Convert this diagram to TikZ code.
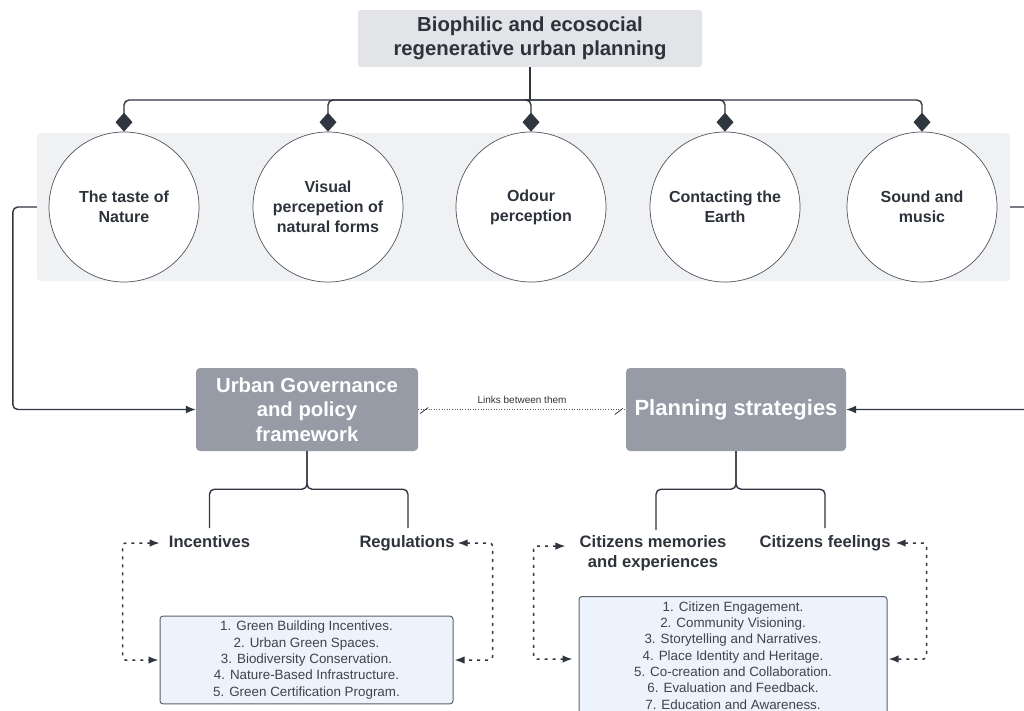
\documentclass[tikz,border=0pt]{standalone}
\usepackage{fontspec}
\setmainfont{Liberation Sans}
\usetikzlibrary{arrows.meta,calc}
\definecolor{ink}{HTML}{30363F}
\definecolor{txt}{HTML}{2E333B}
\definecolor{listtxt}{HTML}{3E444E}
\definecolor{titlefill}{HTML}{E2E4E8}
\definecolor{bandfill}{HTML}{F0F1F3}
\definecolor{boxgray}{HTML}{969BA5}
\definecolor{bluefill}{HTML}{EDF3FC}
\definecolor{blueline}{HTML}{5C626B}
\tikzset{
  titlebox/.style={fill=titlefill, rounded corners=3pt, minimum width=344pt, minimum height=57pt, align=center, text=txt, font=\fontsize{20.3}{23.5}\selectfont\bfseries, inner sep=0pt},
  circ/.style={circle, draw=ink!85, line width=0.7pt, fill=white, minimum size=150pt, inner sep=0pt, align=center, text=txt, font=\fontsize{16}{20}\selectfont\bfseries},
  darkbox/.style={fill=boxgray, rounded corners=4pt, minimum height=83pt, align=center, text=white, inner sep=0pt},
  subbase/.style={text=txt, font=\fontsize{16.6}{20}\selectfont\bfseries, align=center, inner sep=0pt},
  sub/.style={subbase, text height=12pt, text depth=3.5pt},
  listbox/.style={draw=blueline, line width=1pt, fill=bluefill, rounded corners=3pt, align=center, text=listtxt, font=\fontsize{13.4}{16.3}\selectfont, inner xsep=0pt, inner ysep=5pt},
  conn/.style={draw=ink, line width=1.4pt, rounded corners=5pt},
  branch/.style={conn, -{Diamond[length=19pt,width=17pt]}},
  arr/.style={conn, -{Latex[length=10pt,width=8pt]}},
  dloop/.style={draw=ink, line width=1.5pt, dash pattern=on 3pt off 5pt, rounded corners=3pt, {Latex[length=10pt,width=7.5pt]}-{Latex[length=10pt,width=7.5pt]}},
}
\begin{document}
\begin{tikzpicture}[x=1pt,y=-1pt]
\useasboundingbox (0,0) rectangle (1024,710);
% band and circles
\node[fill=bandfill, rounded corners=4pt, minimum width=973pt, minimum height=148pt, inner sep=0pt] (band) at (523.5,207) {};
\node[titlebox] (title) at (530,38.5) {Biophilic and ecosocial\\regenerative urban planning};
\node[circ] (c1) at (124,207) {The taste of\\Nature};
\node[circ] (c2) at (328,207) {Visual\\percepetion of\\natural forms};
\node[circ] (c3) at (531,207) {Odour\\perception};
\node[circ] (c4) at (725,207) {Contacting the\\Earth};
\node[circ] (c5) at (922,207) {Sound and\\music};
\coordinate (hub) at (530,100);
\draw[conn] (title.south) -- (hub);
\foreach \c in {c1,c2,c3,c4,c5}{\draw[branch] (hub) -| (\c.north);}
% middle boxes
\node[darkbox, minimum width=222pt, font=\fontsize{20.3}{24.5}\selectfont\bfseries] (gov) at (307,409.5) {Urban Governance\\and policy\\framework};
\node[darkbox, minimum width=220pt, font=\fontsize{22}{24}\selectfont\bfseries] (plan) at (736,409.5) {Planning strategies};
\draw[arr] (band.west) -- ++(-24,0) |- (gov.west);
\draw[arr] (band.east) -- ++(30,0) |- (plan.east);
\draw[draw=ink!80, line width=0.6pt, dotted] (gov.east) -- (plan.west) node[midway, above=2pt, text=txt, font=\fontsize{10}{12}\selectfont] {Links between them};
\draw[ink, line width=0.8pt] ($(gov.east)+(2,4)$) -- ++(8,-6);
\draw[ink, line width=0.8pt] ($(plan.west)+(-11,5)$) -- ++(8,-6);
% sub items
\node[sub] (inc) at (209.5,543) {Incentives};
\node[sub] (reg) at (407,543) {Regulations};
\node[subbase] (mem) at (653,553) {Citizens memories\\and experiences};
\node[sub] (feel) at (825,543) {Citizens feelings};
\draw[conn] (gov.south) -- ++(0,38) -| ($(inc.north)+(0,-7)$);
\draw[conn] (gov.south) -- ++(0,38) -| ($(reg.north)+(1,-7)$);
\draw[conn] (plan.south) -- ++(0,38) -| ($(mem.north)+(3,-5)$);
\draw[conn] (plan.south) -- ++(0,38) -| ($(feel.north)+(0,-7)$);
% lists
\node[listbox, minimum width=293pt] (lbox) at (306.5,660) {1. Green Building Incentives.\\2. Urban Green Spaces.\\3. Biodiversity Conservation.\\4. Nature-Based Infrastructure.\\5. Green Certification Program.};
\node[listbox, minimum width=308pt, minimum height=130pt, anchor=north, text depth=20pt] (rbox) at (733,596) {1. Citizen Engagement.\\2. Community Visioning.\\3. Storytelling and Narratives.\\4. Place Identity and Heritage.\\5. Co-creation and Collaboration.\\6. Evaluation and Feedback.\\7. Education and Awareness.};
% dotted loops
\draw[dloop] ($(inc.west)+(-9,0)$) -| ($(lbox.west)+(-37,0)$) -- ($(lbox.west)+(-1,0)$);
\draw[dloop] ($(reg.east)+(3,0)$) -| ($(lbox.east)+(39,0)$) -- ($(lbox.east)+(1,0)$);
\coordinate (rl) at ($(rbox.north west)+(-6,63)$);
\coordinate (rr) at ($(rbox.north east)+(1,63)$);
\draw[dloop] ($(mem.north west)+(-14,11)$) -| ($(rl)+(-39,0)$) -- (rl);
\draw[dloop] ($(feel.east)+(5,0)$) -| ($(rr)+(38,0)$) -- (rr);
\end{tikzpicture}
\end{document}
